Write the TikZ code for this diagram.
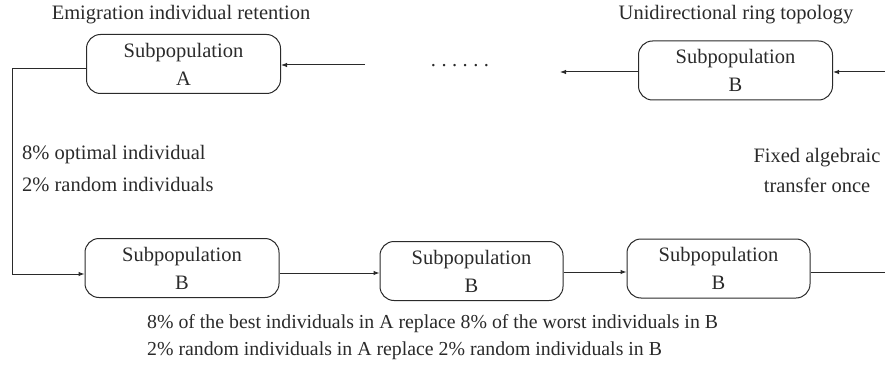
\documentclass[tikz,border=0pt]{standalone}
\usepackage{fontspec}
\setmainfont{Liberation Serif}
\usetikzlibrary{arrows.meta}
\definecolor{ink}{HTML}{2A2A2A}
\tikzset{
  x=1pt,y=-1pt,
  pop/.style={draw=ink,line width=1pt,rounded corners=14pt,minimum width=194pt,minimum height=59pt,align=center,inner sep=0pt,font=\fontsize{20.5}{28}\selectfont,text=ink},
  lbl/.style={font=\fontsize{20.5}{30}\selectfont,text=ink,inner sep=0pt},
  conn/.style={draw=ink,line width=1pt},
  arr/.style={conn,-{Latex[length=6pt,width=4.5pt]}},
}
\begin{document}
\begin{tikzpicture}
\useasboundingbox (0,0) rectangle (885,366);
% boxes
\node[pop] (A) at (183.5,64) {Subpopulation\\A};
\node[pop] (BT) at (735.5,70.5) {Subpopulation\\B};
\node[pop] (B1) at (182,268) {Subpopulation\\B};
\node[pop,minimum width=183pt] (B2) at (471.5,271) {Subpopulation\\B};
\node[pop,minimum width=183pt] (B3) at (718.5,268.5) {Subpopulation\\B};
% dots
\node[lbl] (dots) at (460,66) {.\hspace{5.5pt}.\hspace{5.5pt}.\hspace{5.5pt}.\hspace{5.5pt}.\hspace{5.5pt}.};
% free ends
\coordinate (inA) at (365,65);
\coordinate (outBT) at (560,72);
\coordinate (inBT) at (885,72);
\coordinate (outB3) at (885,272);
\coordinate (cornerTop) at (12,69);
\coordinate (cornerBot) at (12,274);
% connectors
\draw[arr] (inA) -- (A.east |- inA);
\draw[arr] (BT.west |- outBT) -- (outBT);
\draw[arr] (inBT) -- (BT.east |- inBT);
\draw[arr] (A.west |- cornerTop) -- (cornerTop) -- (cornerBot) -- (B1.west |- cornerBot);
\draw[arr] (B1.east |- 0,273) -- (B2.west |- 0,273);
\draw[arr] (B2.east |- 0,272) -- (B3.west |- 0,272);
\draw[conn] (B3.east |- outB3) -- (outB3);
% labels
\node[lbl] (t1) at (181,15) {Emigration individual retention};
\node[lbl] (t2) at (736,15) {Unidirectional ring topology};
\node[lbl,anchor=west] (t3) at (22,155) {8\% optimal individual};
\node[lbl,anchor=west] (t4) at (22,185) {2\% random individuals};
\node[lbl,align=center] (t5) at (817,170) {Fixed algebraic\\transfer once};
\node[lbl,anchor=west,align=left,font=\fontsize{19.8}{27}\selectfont] (t6) at (147,337) {8\% of the best individuals in A replace 8\% of the worst individuals in B\\2\% random individuals in A replace 2\% random individuals in B};
\end{tikzpicture}
\end{document}
